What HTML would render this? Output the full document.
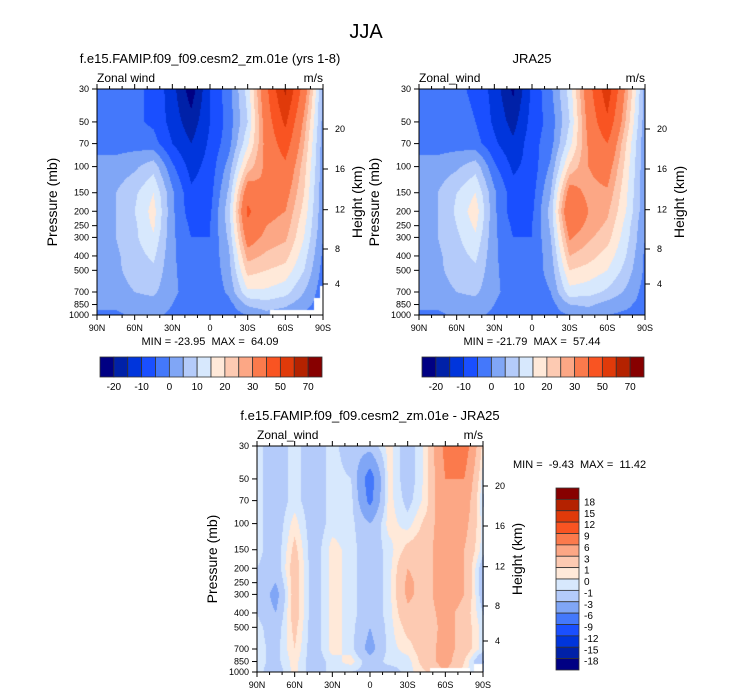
<!DOCTYPE html>
<html><head><meta charset="utf-8"><style>
body{margin:0;background:#fff;}
#wrap{position:relative;width:733px;height:696px;overflow:hidden;background:#fff;font-family:"Liberation Sans",sans-serif;}
canvas{position:absolute;}
svg{position:absolute;left:0;top:0;}
text{white-space:pre;}
</style></head><body>
<div id="wrap">
<canvas id="c1" width="226" height="226" style="left:97px;top:89px"></canvas>
<canvas id="c2" width="226" height="226" style="left:419px;top:89px"></canvas>
<canvas id="c3" width="227" height="226" style="left:257px;top:446px"></canvas>
<svg id="s" width="733" height="696" font-family="Liberation Sans, sans-serif">
<text x="366" y="38" font-size="20" text-anchor="middle">JJA</text>
</svg>
</div>
<script>
// ---- data ----
const lats=[90,75,60,45,30,15,0,-15,-30,-45,-60,-75,-90];
const plev=[30,50,70,100,150,200,250,300,400,500,700,850,1000];
const colors=["#000083","#0021a8","#0035dc","#1a4fff","#4478fb","#80a6f6","#b4cbfa","#d7e8fd","#ffe9d9","#fdcab2","#fca785","#fb7a4c","#f95422","#e03a0a","#b42200","#870000"];
const levelsU=[-20,-15,-10,-5,0,5,10,15,20,25,30,40,50,60,70];
const levelsD=[-18,-15,-12,-9,-6,-3,-1,0,1,3,6,9,12,15,18];
const labelsU=["-20","-10","0","10","20","30","50","70"];
const labelsD=["18","15","12","9","6","3","1","0","-1","-3","-6","-9","-12","-15","-18"];
const model=[
[-3,-3,-4,-6,-13,-23,-10,-2,12,38,62,35,3],
[-3,-3,-4,-6,-12,-18,-10,-3,10,35,52,28,3],
[-1,-2,-2,-3,-10,-15,-9,-2,14,33,45,25,2],
[1,2,4,8,-4,-12,-8,2,22,32,38,22,2],
[2,5,9,15,1,-9,-7,6,36,30,33,20,1],
[2,5,10,17,1,-8,-6,8,42,32,30,18,1],
[2,5,9,16,1,-6,-5,7,38,30,28,16,1],
[2,5,9,14,1,-5,-5,6,34,28,26,15,0],
[2,4,8,11,1,-4,-4,4,27,24,22,12,-1],
[2,4,7,9,1,-3,-4,3,22,20,18,10,-2],
[1,3,5,6,1,-2,-4,1,14,14,12,5,-3],
[1,1,3,3,0,-3,-5,-2,6,8,6,2,-3],
[-1,-1,1,1,-1,-5,-4,-3,0,3,2,-1,-3]];
const jra=[
[-3,-3,-4,-6,-12,-21,-9,-1,12,36,56,28,3],
[-2,-3,-3,-5,-11,-17,-8,-3,10,33,48,24,2],
[-1,-2,-2,-3,-9,-14,-7,-2,13,31,40,20,1],
[1,2,4,8,-4,-11,-8,1,21,30,34,18,1],
[2,5,10,15,1,-8,-7,5,34,28,29,16,1],
[2,5,11,18,1,-8,-6,7,40,30,26,15,1],
[2,5,10,16,1,-6,-5,6,35,28,24,13,0],
[2,5,9,14,1,-5,-5,5,31,26,22,12,0],
[2,4,8,11,1,-4,-4,3,25,22,18,10,-1],
[2,4,7,9,1,-3,-3,2,20,18,15,8,-1],
[1,3,5,6,1,-2,-3,0,13,12,9,4,-2],
[1,1,3,3,0,-3,-3,-2,5,6,3,1,-2],
[-1,-1,1,1,-1,-4,-3,-2,0,2,0,-1,-2]];
const diffv=[
[-0.5,-2,-0.5,-2,-0.5,-2,-2,0.5,-2,0.5,7,8,0.5],
[-0.5,-2,-0.5,-2,-0.5,-1,-8,0.5,-2,0.5,6,6,-0.5],
[-0.5,-2,-0.5,-2,-0.5,-0.5,-7,0.5,-1.5,0.5,6,5,-1],
[-0.5,-2,0.5,-2,-0.5,-0.5,-3,0.5,-0.5,1.5,5,4,-0.5],
[-0.5,-2,1.5,-2,0.5,-0.5,-2,-0.5,1.5,2,5,3,-0.5],
[-1,-2,2,-2,0.5,-0.5,-2,-0.5,3,2,5,3,-2],
[-1,-3,2,-2,0.5,-0.5,-2,-0.5,3.5,2,5,3,-2],
[-1,-4,2,-2,0.5,-0.5,-2,-0.5,3.5,2,5,3,-2],
[-1,-3,2,-2,0.5,-0.5,-2,-0.5,2.5,2,4,2,-1],
[-0.5,-2,1.5,-2,0.5,-0.5,-3,-0.5,1.5,1.5,4,2,-0.5],
[-0.5,-1.5,1,-2,0.5,-0.5,-4,-0.5,0.5,2,4,2,-0.5],
[-0.5,-1.5,0.5,-2,-0.5,0.5,-2,-0.5,-0.5,2,4,1,-3],
[-0.5,-2,0.5,-2,-0.5,-1,-1.5,-2,-0.5,1,3,0.5,-2]];
const xTicks=["90N","60N","30N","0","30S","60S","90S"];
const pTicks=[30,50,70,100,150,200,250,300,400,500,700,850,1000];
const hTicks=[20,16,12,8,4];
const hOffsets=[40,80,120.7,160,195];
// ---- helpers ----
const W=226,H=226,LR=Math.log(1000/30);
function yOfP(p){return H*Math.log(p/30)/LR;}
function hexRgb(h){return [parseInt(h.substr(1,2),16),parseInt(h.substr(3,2),16),parseInt(h.substr(5,2),16)];}
const rgb=colors.map(hexRgb);
function value(grid,lat,p){
  let f=(90-lat)/15;let i=Math.max(0,Math.min(11,Math.floor(f)));let tx=f-i;
  let j=0;while(j<11&&p>plev[j+1])j++;
  let ty=Math.log(p/plev[j])/Math.log(plev[j+1]/plev[j]);
  ty=Math.max(0,Math.min(1,ty));
  const a=grid[j][i],b=grid[j][i+1],c=grid[j+1][i],d=grid[j+1][i+1];
  return (a*(1-tx)+b*tx)*(1-ty)+(c*(1-tx)+d*tx)*ty;
}
function colorIdx(v,lv){let k=0;while(k<lv.length&&v>=lv[k])k++;return k;}
function drawField(id,grid,lv,missing){
  const cv=document.getElementById(id),ctx=cv.getContext('2d');
  const w=cv.width,h=cv.height,img=ctx.createImageData(w,h);
  for(let py=0;py<h;py++){
    const p=30*Math.exp(LR*(py+0.5)/H);
    for(let px=0;px<w;px++){
      const lat=90-180*(px+0.5)/W;
      let miss=false;
      for(const m of missing){if(lat<=m[0]&&lat>=m[1]&&p>=m[2])miss=true;}
      const o=(py*w+px)*4;
      if(miss){img.data[o]=255;img.data[o+1]=255;img.data[o+2]=255;img.data[o+3]=255;continue;}
      const c=rgb[colorIdx(value(grid,lat,p),lv)];
      img.data[o]=c[0];img.data[o+1]=c[1];img.data[o+2]=c[2];img.data[o+3]=255;
    }
  }
  ctx.putImageData(img,0,0);
}
const NS="http://www.w3.org/2000/svg";
const svg=document.getElementById('s');
function el(tag,attrs,parent,txt){const e=document.createElementNS(NS,tag);for(const k in attrs)e.setAttribute(k,attrs[k]);if(txt!==undefined)e.textContent=txt;(parent||svg).appendChild(e);return e;}
function axes(ox,oy,title,tx,left,pname){
  const g=el('g',{});
  
  
  const t=el('text',{x:tx,y:oy-26,'font-size':13,'text-anchor':'middle'},g,title);
  
  
  const l=el('text',{x:ox,y:oy-7,'font-size':12},g,left);
  
  
  const u=el('text',{x:ox+W,y:oy-7,'font-size':12,'text-anchor':'end'},g,'m/s');
  
  
  const fr=el('rect',{x:ox,y:oy,width:W,height:H,fill:'none',stroke:'#000','stroke-width':1},g);
  
  
  for(let k=0;k<=18;k++){
    const x=ox+W*k/18,len=(k%3===0)?5:3;
    el('line',{x1:x,x2:x,y1:oy+H,y2:oy+H+len,stroke:'#000'},g);
    el('line',{x1:x,x2:x,y1:oy,y2:oy-len,stroke:'#000'},g);
    if(k%3===0){const lab=el('text',{x:x,y:oy+H+16,'font-size':9,'text-anchor':'middle'},g,xTicks[k/3]);
      
      }
  }
  pTicks.forEach(p=>{const y=oy+yOfP(p);
    el('line',{x1:ox,x2:ox-5,y1:y,y2:y,stroke:'#000'},g);
    const lab=el('text',{x:ox-8,y:y+3,'font-size':9,'text-anchor':'end'},g,String(p));
    
    });
  hTicks.forEach((h,i)=>{const y=oy+hOffsets[i];
    el('line',{x1:ox+W,x2:ox+W+5,y1:y,y2:y,stroke:'#000'},g);
    const lab=el('text',{x:ox+W+12,y:y+3,'font-size':9},g,String(h));
    
    });
  const yl=el('text',{transform:`translate(${ox-40},${oy+H/2}) rotate(-90)`,'font-size':14,'text-anchor':'middle'},g,'Pressure (mb)');
  
  
  const hl=el('text',{transform:`translate(${ox+W+39},${oy+H/2}) rotate(-90)`,'font-size':14,'text-anchor':'middle'},g,'Height (km)');
  
  
}
function hbar(x0,y0,w,h,pname){
  const g=el('g',{});
  
  
  const bw=w/16;
  colors.forEach((c,k)=>{const r=el('rect',{x:x0+k*bw,y:y0,width:bw,height:h,fill:c,stroke:'#333','stroke-width':0.8},g);
    
    });
  labelsU.forEach((t,i)=>{const lab=el('text',{x:x0+(2*i+1)*bw,y:y0+h+13,'font-size':10,'text-anchor':'middle'},g,t);
    
    });
}
// panels
drawField('c1',model,levelsU,[[-48,-90,930],[-83,-90,770],[-88,-90,640]]);
drawField('c2',jra,levelsU,[]);
drawField('c3',diffv,levelsD,[[-48,-80,940],[-83,-90,880]]);
axes(97,89,'f.e15.FAMIP.f09_f09.cesm2_zm.01e (yrs 1-8)',210,'Zonal wind','model');
axes(419,89,'JRA25',532,'Zonal_wind','jra25');
axes(257,446,'f.e15.FAMIP.f09_f09.cesm2_zm.01e - JRA25',370,'Zonal_wind','difference');
let m1=el('text',{x:210,y:345,'font-size':11,'text-anchor':'middle'},svg,'MIN = -23.95  MAX =  64.09');


let m2=el('text',{x:532,y:345,'font-size':11,'text-anchor':'middle'},svg,'MIN = -21.79  MAX =  57.44');


let m3=el('text',{x:513,y:468,'font-size':11},svg,'MIN =  -9.43  MAX =  11.42');


hbar(100,357,222,20,'model');
hbar(422,357,222,20,'jra25');
// vertical colorbar
(function(){
  const g=el('g',{});
  
  
  const x0=556,y0=488,w=23,h=182,bh=h/16;
  colors.slice().reverse().forEach((c,k)=>{const r=el('rect',{x:x0,y:y0+k*bh,width:w,height:bh,fill:c,stroke:'#333','stroke-width':0.8},g);
    
    });
  labelsD.forEach((t,i)=>{const lab=el('text',{x:x0+w+5,y:y0+(i+1)*bh+6,'font-size':10},g,t);
    
    });
})();
</script>
</body></html>
